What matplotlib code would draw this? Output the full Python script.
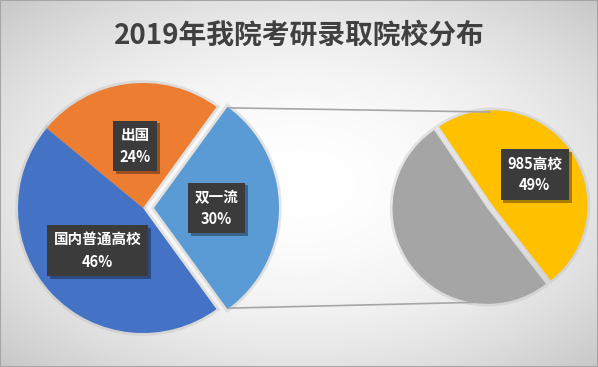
import matplotlib
matplotlib.use('Agg')
import matplotlib.pyplot as plt
import matplotlib.patheffects as pe
from matplotlib.patches import Rectangle
import numpy as np

plt.rcParams['font.family'] = ['Noto Sans CJK SC', 'DejaVu Sans']

title = "2019年我院考研录取院校分布"
main_labels = ["双一流", "出国", "国内普通高校"]
main_values = [30, 24, 46]
main_colors = ['#5B9BD5', '#ED7D31', '#4472C4']
sub_labels = ["985高校", ""]
sub_values = [49, 51]
sub_colors = ['#FFC000', '#A5A5A5']

W, H = 598, 367
fig = plt.figure(figsize=(W / 100, H / 100), dpi=100)
ax = fig.add_axes([0, 0, 1, 1])

# radial gradient background
yy, xx = np.mgrid[0:H, 0:W]
dx = (xx - W / 2) / (W / 2)
dy = (yy - H / 2) / (H / 2)
d2 = (dx ** 2 + dy ** 2) / 2
val = 1 - 0.22 * d2
img = np.dstack([val, val, val])
ax.imshow(img, extent=(0, W, 0, H), origin='upper', zorder=0, aspect='auto')

# main pie (explode given in pixel units, as data units here)
c1 = (143, H - 208)
r1 = 125
start1 = -main_values[0] / sum(main_values) * 360 / 2
explode1 = [11, 0, 0]
ax.pie(main_values, colors=['#b0b0b0'] * 3, startangle=start1, center=c1, radius=r1,
       explode=explode1, counterclock=True,
       wedgeprops=dict(linewidth=4, edgecolor='#b0b0b0', alpha=0.3))
w1, _ = ax.pie(main_values, colors=main_colors, startangle=start1, center=c1, radius=r1,
               explode=explode1, counterclock=True, wedgeprops=dict(linewidth=0))

# secondary pie
c2 = (490, H - 207)
r2 = 95
sub_frac = sub_values[0] / sum(sub_values) * 360
start2 = 36 - sub_frac / 2
explode2 = [3, 3]
ax.pie(sub_values, colors=['#b0b0b0'] * 2, startangle=start2, center=c2, radius=r2,
       explode=explode2, wedgeprops=dict(linewidth=4, edgecolor='#b0b0b0', alpha=0.3))
w2, _ = ax.pie(sub_values, colors=sub_colors, startangle=start2, center=c2, radius=r2,
               explode=explode2, wedgeprops=dict(linewidth=0))

# connector lines
wb = w1[0]
for ang, sgn in [(wb.theta2, 1), (wb.theta1, -1)]:
    x0 = wb.center[0] + wb.r * np.cos(np.radians(ang))
    y0 = wb.center[1] + wb.r * np.sin(np.radians(ang))
    ax.plot([x0 + 2, c2[0]], [y0 - sgn * 1, c2[1] + sgn * r2], color='#a6a6a6', lw=1.2, zorder=1)


def add_label(w, name, v, frac):
    mid = np.radians((w.theta1 + w.theta2) / 2)
    x = w.center[0] + frac * w.r * np.cos(mid)
    y = w.center[1] + frac * w.r * np.sin(mid)
    t = ax.text(x, y, f"{name}\n{v}%", ha='center', va='center', color='white',
                fontsize=10.5, fontweight='bold', linespacing=1.45, zorder=5,
                bbox=dict(boxstyle='square,pad=0.45', fc='#3b3b3b', ec='none'))
    t.get_bbox_patch().set_path_effects([
        pe.SimplePatchShadow(offset=(2, -2), shadow_rgbFace='k', alpha=0.35), pe.Normal()])


for w, n, v in zip(w1, main_labels, main_values):
    add_label(w, n, v, 0.5)
add_label(w2[0], sub_labels[0], sub_values[0], 0.55)

ax.set_xlim(0, W)
ax.set_ylim(0, H)
ax.axis('off')

fig.text(0.5, 1 - 36 / H, title, ha='center', va='center', fontsize=20,
         fontweight='bold', color='#404040')
fig.patches.append(Rectangle((0, 0), 1, 1, transform=fig.transFigure, fill=False,
                             ec='#a6a6a6', lw=1.5))

fig.savefig('out.png', dpi=100)
